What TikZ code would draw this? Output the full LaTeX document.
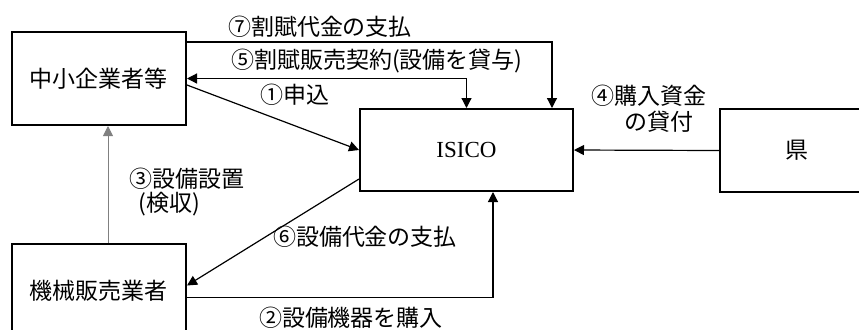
\documentclass[tikz,border=0pt]{standalone}
\usepackage{fontspec}
\setmainfont{Liberation Serif}
\newfontfamily\cjk{Noto Sans CJK JP}
\usetikzlibrary{positioning, arrows.meta}

\begin{document}
\begin{tikzpicture}[x=0.5pt, y=-0.5pt,
        every node/.style={font=\cjk\fontsize{11.5}{13}\selectfont},
        party/.style={draw, line width=1pt, inner sep=0pt},
        flow/.style={-{Triangle[length=5pt, width=5pt]}, line width=0.6pt},
        both/.style={{Triangle[length=5pt, width=5pt]}-{Triangle[length=5pt, width=5pt]}, line width=0.6pt}]
            \useasboundingbox (0, 0) rectangle (859, 329);
            \clip (0, 0) rectangle (859, 329);

            \node[party, minimum width=87pt, minimum height=46.5pt] (sme) at (99, 78.5) {中小企業者等};
            \node[party, minimum width=106.5pt, minimum height=41pt, font=\rmfamily\fontsize{11.5}{13}\selectfont] (isico) at (466.5, 150) {ISICO};
            \node[party, minimum width=77pt, minimum height=41.5pt] (ken) at (797, 150.5) {県};
            \node[party, minimum width=87pt, minimum height=46.5pt] (dealer) at (99, 290.5) {機械販売業者};

            \node (pay7) at (320, 27) {⑦割賦代金の支払};
            \node (contract5) at (377, 61) {⑤割賦販売契約(設備を貸与)};
            \node (apply1) at (295, 95) {①申込};
            \node[align=left] (loan4) at (649, 109) {④購入資金\\\hspace{16.5pt}の貸付};
            \node[align=left, font=\cjk\fontsize{11.5}{10.5}\selectfont] (setup3) at (187, 192) {③設備設置\\\hspace{4.5pt}(検収)};
            \node (pay6) at (365, 237) {⑥設備代金の支払};
            \node (buy2) at (351, 318) {②設備機器を購入};

            \draw [flow] ([yshift=-5.5pt]sme.north east) -| ([xshift=42.75pt]isico.north);
            \draw [both] (sme.east) -| (isico.north);
            \draw [flow] ([yshift=-3.25pt]sme.east) -- (isico.west);
            \draw [flow] (ken.west) -- (isico.east);
            \draw [flow, gray, line width=0.5pt] ([xshift=4.5pt]dealer.north) -- ([xshift=4.5pt]sme.south);
            \draw [flow] ([yshift=6.5pt]isico.south west) -- ([yshift=2.5pt]dealer.east);
            \draw [flow] ([yshift=-3.5pt]dealer.east) -| ([xshift=13.25pt]isico.south);
        \end{tikzpicture}
\end{document}
